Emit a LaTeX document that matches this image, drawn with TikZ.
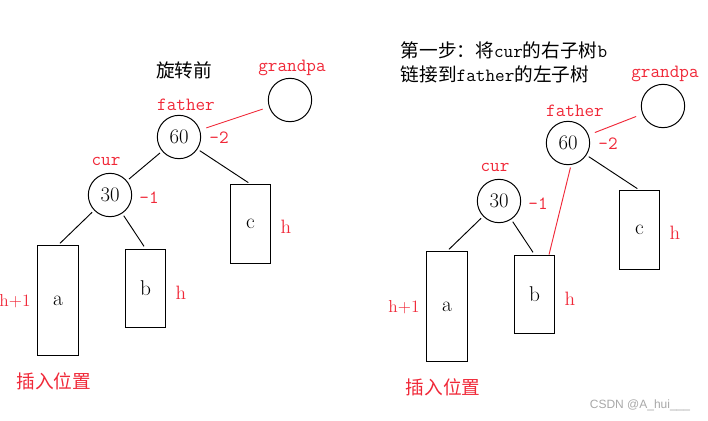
\documentclass[tikz,border=0pt]{standalone}
\usepackage{fontspec}
\newfontfamily\cjk{Noto Sans CJK SC}
\newfontfamily\wmfont{Liberation Sans}
\usetikzlibrary{positioning}
\definecolor{TagRed}{HTML}{F02838}
\definecolor{MarkGray}{HTML}{A8A8A8}
\tikzset{
  treenode/.style={draw, circle, minimum size=32.5pt, inner sep=0pt, line width=0.75pt, font=\fontsize{15.5}{15.5}\selectfont},
  subtree/.style={draw, rectangle, minimum width=30.5pt, minimum height=59pt, inner sep=0pt, line width=0.9pt, font=\fontsize{16}{16}\selectfont},
  nametag/.style={text=TagRed, font=\ttfamily\fontsize{14}{14}\selectfont},
  htag/.style={text=TagRed, font=\fontsize{14.5}{14.5}\selectfont},
  cjktag/.style={font=\cjk\fontsize{14}{14}\selectfont},
  edge/.style={draw, line width=0.7pt, shorten <=2pt, shorten >=2pt},
  redlink/.style={draw=TagRed, line width=0.7pt, shorten <=5pt, shorten >=5pt}
}
\begin{document}
\begin{tikzpicture}[x=0.75pt,y=-0.75pt]
\useasboundingbox (0,0) rectangle (708,421);
\foreach \s/\dx/\dy/\gx in {L/0/0/290,R/389/6/274}{
  \begin{scope}[shift={(\dx,\dy)}]
    \node[treenode] (father\s) at (179,137) {60};
    \node[treenode] (cur\s) at (110,195) {30};
    \node[treenode] (grandpa\s) at (\gx,100) {};
    \node[subtree, minimum height=82pt] (a\s) at (58,300.5) {a};
    \node[subtree] (b\s) at (145.5,288.5) {b};
    \node[subtree] (c\s) at (250.5,224) {c};
    \node[nametag] (fathertag\s) at (186,105) {father};
    \node[nametag] (curtag\s) at (106,161) {cur};
    \node[nametag] (grandpatag\s) at (\gx+2,68) {grandpa};
    \node[nametag] (fbal\s) at (219,138) {-2};
    \node[nametag] (cbal\s) at (149,198) {-1};
    \node[htag, font=\fontsize{13}{13}\selectfont] (ah\s) at (15,301) {h+1};
    \node[htag] (bh\s) at (181,293) {h};
    \node[htag] (ch\s) at (286,227) {h};
    \node[cjktag, text=TagRed] (insert\s) at (54,381) {插入位置};
    \draw[redlink] (father\s) -- (grandpa\s);
    \draw[edge] (father\s) -- (c\s.north);
    \draw[edge] (cur\s) -- (a\s.north);
    \draw[edge] (cur\s) -- (b\s.north);
  \end{scope}
}
\draw[edge] (fatherL) -- (curL);
\draw[redlink, shorten <=2pt, shorten >=0pt] (fatherR.-82) -- (bR.70);
\node[cjktag] (before) at (184,70) {旋转前};
\node[cjktag, anchor=west] (step1) at (396,50) {第一步：将{\ttfamily cur}的右子树{\ttfamily b}};
\node[cjktag, anchor=west] (step2) at (396,74) {链接到{\ttfamily father}的左子树};
\node[font=\wmfont\fontsize{9}{9}\selectfont, text=MarkGray] (mark) at (640,405) {CSDN @A\_hui\_\_\_};
\end{tikzpicture}
\end{document}
